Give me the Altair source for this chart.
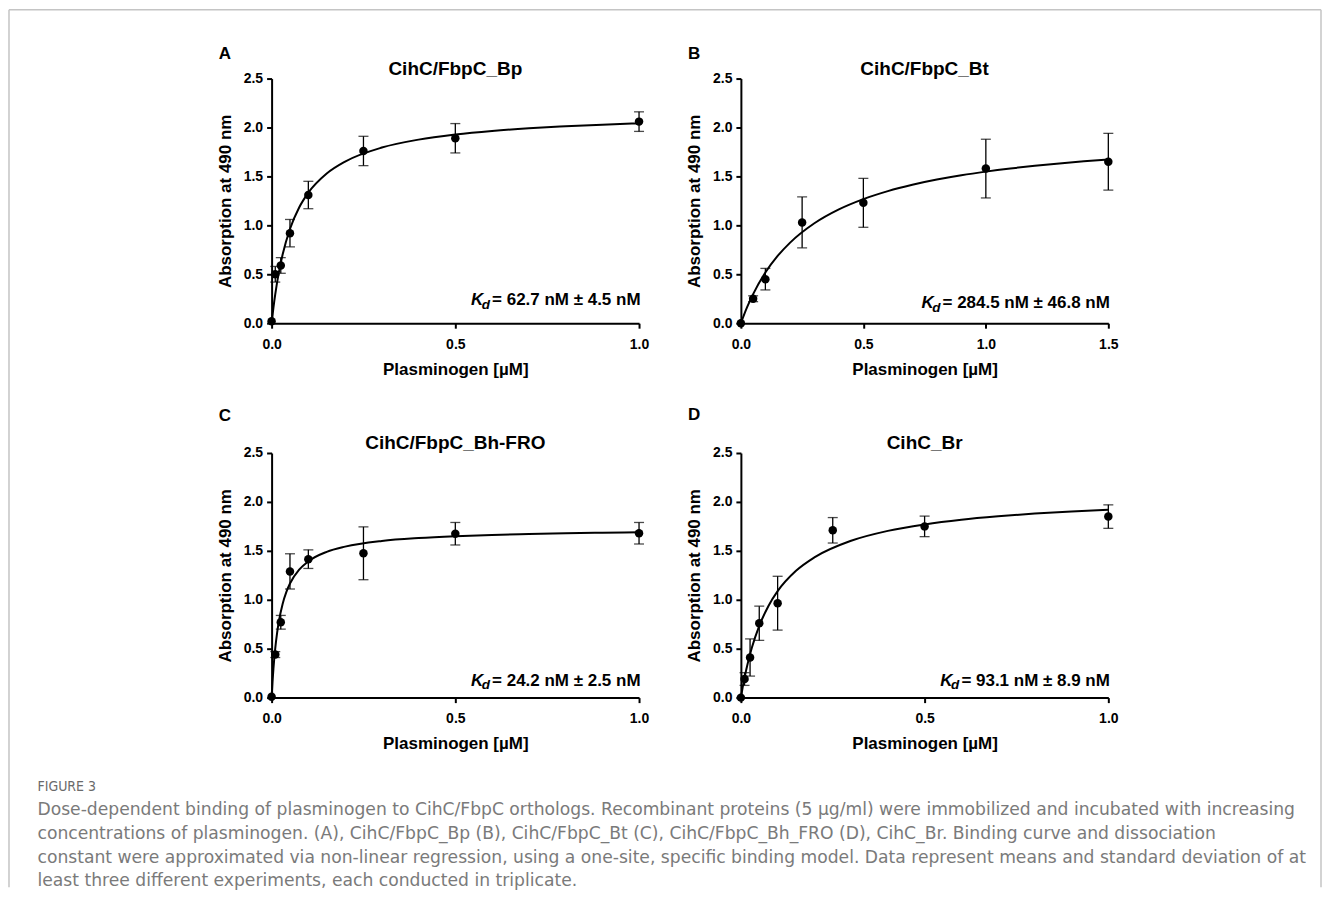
import altair as alt
import pandas as pd

FONT = "Liberation Sans"

# ---------------- data ----------------
# Panel A  CihC/FbpC_Bp
a_x = [0, 0.01, 0.025, 0.05, 0.1, 0.25, 0.5, 1.0]
a_y = [0.02, 0.50, 0.59, 0.92, 1.31, 1.76, 1.89, 2.06]
a_err = [0, 0.08, 0.08, 0.14, 0.14, 0.15, 0.15, 0.10]
a_cx = [0, 0.005, 0.01, 0.02, 0.03, 0.05, 0.075, 0.1, 0.15, 0.2, 0.3, 0.4, 0.5, 0.6, 0.7, 0.8, 0.9, 1.0]
a_cy = [0, 0.160, 0.298, 0.525, 0.702, 0.963, 1.182, 1.334, 1.530, 1.652, 1.795, 1.876, 1.928, 1.965, 1.992, 2.012, 2.029, 2.042]

# Panel B  CihC/FbpC_Bt
b_x = [0, 0.05, 0.1, 0.25, 0.5, 1.0, 1.5]
b_y = [0.0, 0.25, 0.45, 1.03, 1.23, 1.58, 1.65]
b_err = [0, 0.03, 0.11, 0.26, 0.25, 0.30, 0.29]
b_cx = [0, 0.025, 0.05, 0.1, 0.15, 0.2, 0.3, 0.4, 0.5, 0.6, 0.7, 0.8, 0.9, 1.0, 1.1, 1.2, 1.3, 1.4, 1.5]
b_cy = [0, 0.161, 0.297, 0.518, 0.687, 0.821, 1.021, 1.163, 1.268, 1.350, 1.415, 1.468, 1.512, 1.549, 1.581, 1.609, 1.633, 1.654, 1.673]

# Panel C  CihC/FbpC_Bh-FRO
c_x = [0, 0.01, 0.025, 0.05, 0.1, 0.25, 0.5, 1.0]
c_y = [0.01, 0.44, 0.77, 1.29, 1.415, 1.475, 1.675, 1.68]
c_err = [0, 0.03, 0.07, 0.18, 0.095, 0.27, 0.115, 0.11]
c_cx = [0, 0.0025, 0.005, 0.01, 0.015, 0.02, 0.03, 0.04, 0.05, 0.075, 0.1, 0.15, 0.2, 0.3, 0.4, 0.5, 0.6, 0.7, 0.8, 0.9, 1.0]
c_cy = [0, 0.162, 0.296, 0.506, 0.662, 0.783, 0.958, 1.078, 1.166, 1.308, 1.393, 1.490, 1.543, 1.601, 1.631, 1.650, 1.663, 1.672, 1.679, 1.685, 1.689]

# Panel D  CihC_Br
d_x = [0, 0.01, 0.025, 0.05, 0.1, 0.25, 0.5, 1.0]
d_y = [0.0, 0.19, 0.41, 0.76, 0.965, 1.71, 1.75, 1.85]
d_err = [0, 0.065, 0.19, 0.175, 0.275, 0.13, 0.105, 0.12]
d_cx = [0, 0.005, 0.01, 0.02, 0.03, 0.05, 0.075, 0.1, 0.15, 0.2, 0.3, 0.4, 0.5, 0.6, 0.7, 0.8, 0.9, 1.0]
d_cy = [0, 0.107, 0.204, 0.371, 0.512, 0.734, 0.937, 1.088, 1.296, 1.433, 1.603, 1.704, 1.770, 1.818, 1.853, 1.881, 1.903, 1.921]

titles = ["CihC/FbpC_Bp", "CihC/FbpC_Bt", "CihC/FbpC_Bh-FRO", "CihC_Br"]
letters = ["A", "B", "C", "D"]
kd_texts = ["= 62.7 nM ± 4.5 nM", "= 284.5 nM ± 46.8 nM", "= 24.2 nM ± 2.5 nM", "= 93.1 nM ± 8.9 nM"]
x_max = [1.0, 1.5, 1.0, 1.0]
x_ticks = [[0, 0.5, 1.0], [0, 0.5, 1.0, 1.5], [0, 0.5, 1.0], [0, 0.5, 1.0]]
y_ticks = [0, 0.5, 1.0, 1.5, 2.0, 2.5]

figure_label = "FIGURE 3"
caption_lines = [
    "Dose-dependent binding of plasminogen to CihC/FbpC orthologs. Recombinant proteins (5 µg/ml) were immobilized and incubated with increasing",
    "concentrations of plasminogen. (A), CihC/FbpC_Bp (B), CihC/FbpC_Bt (C), CihC/FbpC_Bh_FRO (D), CihC_Br. Binding curve and dissociation",
    "constant were approximated via non-linear regression, using a one-site, specific binding model. Data represent means and standard deviation of at",
    "least three different experiments, each conducted in triplicate.",
]

# ---------------- layout constants ----------------
W, H = 368, 245
letter_dy = [-25, -25, -37, -38]
kd_dy = [18, 15, 12, 12]

# Arial/Liberation Sans Bold advance widths (em) for the Kd strings
AW = {"=": 0.584, " ": 0.278, ".": 0.278, "n": 0.611, "M": 0.833, "±": 0.549}
def text_w(s, fs):
    return sum(AW.get(ch, 0.556) for ch in s) * fs


def panel(i, xs, ys, errs, cx, cy, extra=None):
    pts = pd.DataFrame({"x": xs, "y": ys, "err": errs})
    pts["lo"] = pts["y"] - pts["err"]
    pts["hi"] = pts["y"] + pts["err"]
    bars = pts[pts["err"] > 0]
    curve = pd.DataFrame({"x": cx, "y": cy})

    xscale = alt.Scale(domain=[0, x_max[i]], nice=False, zero=True)
    yscale = alt.Scale(domain=[0, 2.5], nice=False)
    xaxis = alt.Axis(values=x_ticks[i], format=".1f", title="Plasminogen [µM]",
                     labelPadding=9, titlePadding=10, grid=False, labelFlush=False)
    yaxis = alt.Axis(values=y_ticks, format=".1f", title="Absorption at 490 nm",
                     labelPadding=4, titlePadding=9, grid=False, labelFlush=False)

    X = alt.X("x:Q", scale=xscale, axis=xaxis)

    line = alt.Chart(curve).mark_line(color="black", strokeWidth=2, interpolate="monotone").encode(
        x=X, y=alt.Y("y:Q", scale=yscale, axis=yaxis))
    rules = alt.Chart(bars).mark_rule(color="black", strokeWidth=1.3).encode(
        x=X, y=alt.Y("lo:Q", scale=yscale, axis=yaxis), y2="hi:Q")
    cap_lo = alt.Chart(bars).mark_tick(color="black", orient="horizontal", size=10, thickness=1.3).encode(
        x=X, y=alt.Y("lo:Q", scale=yscale, axis=yaxis))
    cap_hi = alt.Chart(bars).mark_tick(color="black", orient="horizontal", size=10, thickness=1.3).encode(
        x=X, y=alt.Y("hi:Q", scale=yscale, axis=yaxis))
    dots = alt.Chart(pts).mark_circle(color="black", size=72, opacity=1).encode(
        x=X, y=alt.Y("y:Q", scale=yscale, axis=yaxis))

    one = lambda s: pd.DataFrame({"t": [s]})
    title = alt.Chart(one(titles[i])).mark_text(
        font=FONT, fontSize=19, fontWeight="bold", color="black", align="center", baseline="middle"
    ).encode(x=alt.value(W / 2), y=alt.value(-10), text="t:N")
    letter = alt.Chart(one(letters[i])).mark_text(
        font=FONT, fontSize=17, fontWeight="bold", color="black", align="left", baseline="middle"
    ).encode(x=alt.value(-53), y=alt.value(letter_dy[i]), text="t:N")

    R = W + 1.5
    fs = 17
    wm = text_w(kd_texts[i], fs)
    ybase = H - kd_dy[i]
    kd_main = alt.Chart(one(kd_texts[i])).mark_text(
        font=FONT, fontSize=fs, fontWeight="bold", color="black", align="right", baseline="alphabetic"
    ).encode(x=alt.value(R), y=alt.value(ybase), text="t:N")
    kd_sub = alt.Chart(one("d")).mark_text(
        font=FONT, fontSize=13.5, fontWeight="bold", fontStyle="italic", color="black", align="right",
        baseline="alphabetic"
    ).encode(x=alt.value(R - wm - 2), y=alt.value(ybase + 3.5), text="t:N")
    kd_k = alt.Chart(one("K")).mark_text(
        font=FONT, fontSize=fs, fontWeight="bold", fontStyle="italic", color="black", align="right",
        baseline="alphabetic"
    ).encode(x=alt.value(R - wm - 2 - 0.611 * 13.5 + 1.5), y=alt.value(ybase), text="t:N")

    layers = [line, rules, cap_lo, cap_hi, dots, title, letter, kd_main, kd_sub, kd_k]
    if extra:
        layers += extra
    return alt.layer(*layers).properties(width=W, height=H)


# page border (figure frame), drawn relative to panel A's plot origin
frame = pd.DataFrame({"t": [""]})
border = [
    alt.Chart(frame).mark_rule(color="#c4c4c4", strokeWidth=1.5).encode(
        x=alt.value(-263), y=alt.value(-69), y2=alt.value(810)),
    alt.Chart(frame).mark_rule(color="#c4c4c4", strokeWidth=1.5).encode(
        x=alt.value(-263), x2=alt.value(1051), y=alt.value(-69)),
    alt.Chart(frame).mark_rule(color="#c4c4c4", strokeWidth=1.5).encode(
        x=alt.value(1051), y=alt.value(-69), y2=alt.value(810)),
]

caption = [
    alt.Chart(pd.DataFrame({"t": [figure_label]})).mark_text(
        font="DejaVu Sans Condensed", fontSize=14, color="#6a6a6a", align="left", baseline="middle"
    ).encode(x=alt.value(-234.5), y=alt.value(335), text="t:N"),
    alt.Chart(pd.DataFrame({"t": ["\n".join(caption_lines)]})).mark_text(
        font="DejaVu Sans", fontSize=17.2, color="#7a7a7a", align="left", baseline="top",
        lineBreak="\n", lineHeight=23.7
    ).encode(x=alt.value(-234.5), y=alt.value(349), text="t:N"),
]

pA = panel(0, a_x, a_y, a_err, a_cx, a_cy, extra=border)
pB = panel(1, b_x, b_y, b_err, b_cx, b_cy)
pC = panel(2, c_x, c_y, c_err, c_cx, c_cy, extra=caption)
pD = panel(3, d_x, d_y, d_err, d_cx, d_cy)

chart = alt.concat(
    pA, pB, pC, pD, columns=2, spacing=alt.RowColnumber(row=130, column=102), bounds="flush"
).properties(padding=0, background="white").configure_view(strokeWidth=0).configure_axis(
    grid=False, domainColor="black", domainWidth=2, tickColor="black", tickWidth=2, tickSize=5,
    labelFont=FONT, labelFontSize=14, labelFontWeight="bold", labelColor="black",
    labelFlush=False, labelOverlap=False,
    titleFont=FONT, titleFontSize=17, titleFontWeight="bold", titleColor="black",
)

chart.save("out.html", embed_options={"renderer": "svg", "actions": False})
